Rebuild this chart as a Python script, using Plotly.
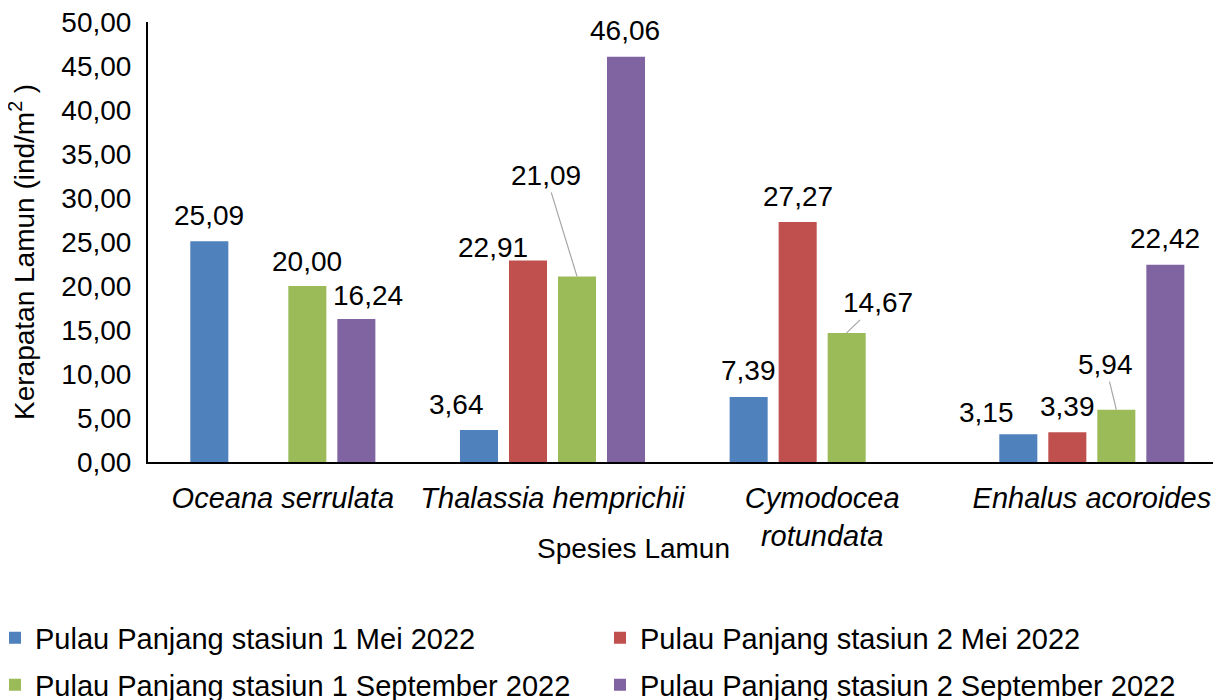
import plotly.graph_objects as go

# ---------------- data ----------------
categories = ["Oceana serrulata", "Thalassia hemprichii", "Cymodocea<br>rotundata", "Enhalus acoroides"]
series_names = [
    "Pulau Panjang stasiun 1 Mei 2022",
    "Pulau Panjang stasiun 2 Mei 2022",
    "Pulau Panjang stasiun 1 September 2022",
    "Pulau Panjang stasiun 2 September 2022",
]
st1_mei = [25.09, 3.64, 7.39, 3.15]
st2_mei = [None, 22.91, 27.27, 3.39]
st1_sep = [20.00, 21.09, 14.67, 5.94]
st2_sep = [16.24, 46.06, None, 22.42]
y_ticks = [0, 5, 10, 15, 20, 25, 30, 35, 40, 45, 50]

series_values = [st1_mei, st2_mei, st1_sep, st2_sep]

# ---------------- style ----------------
colors = ["#4F81BD", "#C0504D", "#9BBB59", "#8064A2"]
FONT = "Liberation Sans, Arial, sans-serif"
FS = 28

PAGE = 8  # default body margin of the html page
W, H = 1221 - PAGE, 700 - PAGE
ML, MR, MT = 148 - PAGE, 0, 22 - PAGE
MB = H - (462 - PAGE)
X_RANGE = [-0.5, 3.479]
BARGAP = 0.273
BARGROUPGAP = 0.224

plot_w = W - ML - MR
plot_h = H - MT - MB
cat_px = plot_w / (X_RANGE[1] - X_RANGE[0])
slot_px = cat_px * (1 - BARGAP) / 4


def px_x(sx):  # screen x -> paper fraction
    return (sx - PAGE - ML) / plot_w


def px_y(sy):  # screen y -> paper fraction
    return (H - MB - (sy - PAGE)) / plot_h


# label offsets in px (dx, dy: screen, dy negative = up) relative to bar top centre
label_offsets = {
    (0, 0): (0, -28, False), (2, 0): (0, -27, False), (3, 0): (12, -26, False),
    (0, 1): (-22, -27, False), (1, 1): (-35, -15, False), (2, 1): (-31, -103, True), (3, 1): (-1, -28, False),
    (0, 2): (0, -28, False), (1, 2): (0, -28, False), (2, 2): (31, -32, True),
    (0, 3): (-32, -24, False), (1, 3): (0, -28, False), (2, 3): (-11, -47, True), (3, 3): (0, -28, False),
}

legend_ids = ["legend", "legend2", "legend3", "legend4"]
legend_pos = [(35, 638), (640, 638), (35, 685), (640, 685)]  # text start x, centre y (screen)

fig = go.Figure()
for i, (name, vals, col) in enumerate(zip(series_names, series_values, colors)):
    fig.add_trace(go.Bar(
        x=categories, y=vals, name=name,
        marker=dict(color=col, line=dict(width=0)),
        legend=legend_ids[i],
    ))

annotations = []
for i, vals in enumerate(series_values):
    off = (i - 1.5) * slot_px
    for j, v in enumerate(vals):
        if v is None:
            continue
        dx, dy, leader = label_offsets[(i, j)]
        dy_box = dy + 2
        txt = f"{v:.2f}".replace(".", ",")
        if leader:
            annotations.append(dict(
                x=categories[j], y=v, xref="x", yref="y", text=txt,
                showarrow=True, arrowhead=0, arrowwidth=1.2, arrowcolor="#A6A6A6",
                ax=dx, ay=dy_box, xshift=off, standoff=0,
                font=dict(family=FONT, size=FS, color="black"),
            ))
        else:
            annotations.append(dict(
                x=categories[j], y=v, xref="x", yref="y", text=txt,
                showarrow=False, xanchor="center", yanchor="middle",
                xshift=off + dx, yshift=-dy_box,
                font=dict(family=FONT, size=FS, color="black"),
            ))

# axis titles as annotations (placed like the original)
annotations.append(dict(
    text="Spesies Lamun", xref="paper", yref="paper",
    x=px_x(633), y=px_y(548),
    showarrow=False, xanchor="center", yanchor="middle",
    font=dict(family=FONT, size=FS, color="black"),
))
annotations.append(dict(
    text="Kerapatan Lamun (ind/m<sup>2</sup> )", xref="paper", yref="paper",
    x=px_x(22), y=px_y(252),
    showarrow=False, xanchor="center", yanchor="middle", textangle=-90,
    font=dict(family=FONT, size=FS, color="black"),
))

legends = {}
for lid, (tx, ty) in zip(legend_ids, legend_pos):
    legends[lid] = dict(
        orientation="h", xanchor="left", yanchor="middle",
        x=px_x(tx - 40), y=px_y(ty),
        font=dict(family=FONT, size=29, color="black"),
        bgcolor="rgba(0,0,0,0)", borderwidth=0, itemclick=False,
    )

fig.update_layout(
    width=W, height=H,
    margin=dict(l=ML, r=MR, t=MT, b=MB, autoexpand=False),
    paper_bgcolor="white", plot_bgcolor="white",
    barmode="group", bargap=BARGAP, bargroupgap=BARGROUPGAP,
    separators=",.",
    font=dict(family=FONT, size=FS, color="black"),
    showlegend=True,
    annotations=annotations,
    xaxis=dict(
        type="category", range=X_RANGE, showgrid=False, zeroline=False,
        showline=True, linecolor="black", linewidth=2, ticks="",
        tickfont=dict(family=FONT, size=29, color="black", style="italic"),
        ticklabelstandoff=9, automargin=False, ticklabeloverflow="allow",
    ),
    yaxis=dict(
        range=[0, 50], tickvals=y_ticks, tickformat=".2f",
        showgrid=False, zeroline=False, showline=True, linecolor="black", linewidth=2,
        ticks="", ticklabelstandoff=9, ticklabeloverflow="allow",
        tickfont=dict(family=FONT, size=FS, color="black"), automargin=False,
    ),
    **legends,
)

fig.write_html("out.html")
